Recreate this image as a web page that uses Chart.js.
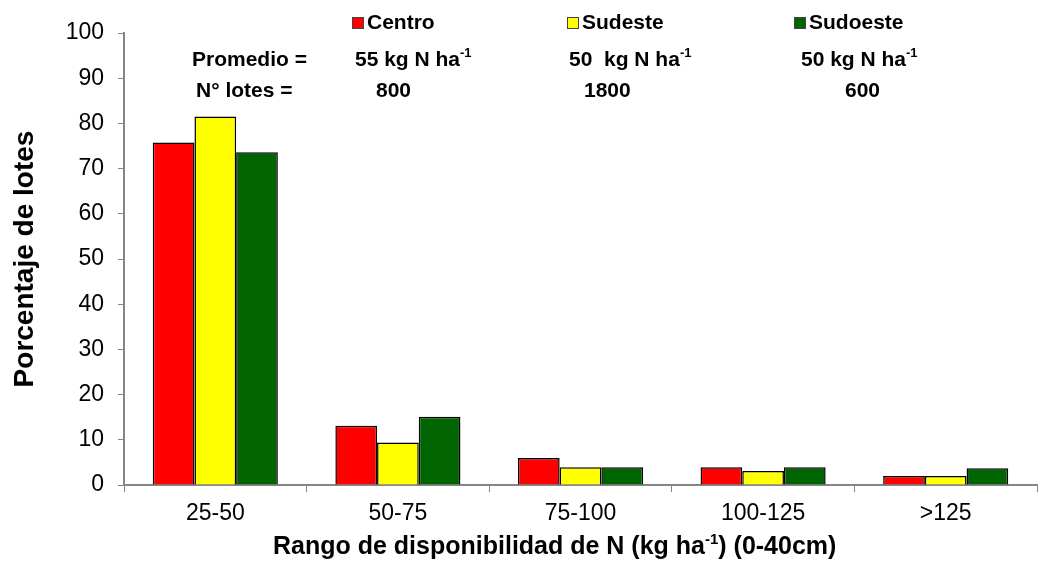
<!DOCTYPE html>
<html>
<head>
<meta charset="utf-8">
<script src="https://cdn.jsdelivr.net/npm/chart.js@4"></script>
<style>
  html, body { margin: 0; padding: 0; background: #fff; }
  #wrap { width: 1046px; height: 563px; position: relative; }
</style>
</head>
<body>
<div id="wrap"><canvas id="chart" width="1046" height="563"></canvas></div>
<script>
const categories = ['25-50', '50-75', '75-100', '100-125', '>125'];
const centro = [75.8, 13.1, 6.0, 3.9, 2.0];
const sudeste = [81.5, 9.4, 3.9, 3.1, 2.0];
const sudoeste = [73.6, 15.1, 3.9, 3.9, 3.7];
const yTicks = [0, 10, 20, 30, 40, 50, 60, 70, 80, 90, 100];
const regions = ['Centro', 'Sudeste', 'Sudoeste'];
const promedios = ['55 kg N ha', '50  kg N ha', '50 kg N ha'];
const lotes = ['800', '1800', '600'];

const FONT = '"Liberation Sans", Arial, sans-serif';
const axisGray = '#868686';

// legend + annotation rows drawn at the top of the chart
const headerPlugin = {
    id: 'header',
    afterDraw(chart) {
        const ctx = chart.ctx;
        ctx.save();
        ctx.textBaseline = 'middle';
        ctx.font = 'bold 21px ' + FONT;
        ctx.fillStyle = '#000';

        const boxX = [352, 567, 794];
        chart.data.datasets.forEach(function(ds, i) {
            ctx.fillStyle = ds.backgroundColor;
            ctx.fillRect(boxX[i], 17, 12, 12);
            ctx.strokeStyle = '#444';
            ctx.lineWidth = 1;
            ctx.strokeRect(boxX[i] + 0.5, 17.5, 11, 11);
            ctx.fillStyle = '#000';
            ctx.fillText(regions[i], boxX[i] + 15, 23);
        });

        ctx.fillText('Promedio =', 192, 60);
        ctx.fillText('N° lotes =', 196, 91);

        const promX = [355, 569, 801];
        promedios.forEach(function(t, i) {
            ctx.font = 'bold 21px ' + FONT;
            ctx.fillText(t, promX[i], 60);
            const w = ctx.measureText(t).width;
            ctx.font = 'bold 13px ' + FONT;
            ctx.fillText('-1', promX[i] + w, 53);
        });

        ctx.font = 'bold 21px ' + FONT;
        const lotX = [376, 584, 845];
        lotes.forEach(function(t, i) {
            ctx.fillText(t, lotX[i], 91);
        });

        // x axis title with superscript
        const parts = [['Rango de disponibilidad de N (kg ha', 25, 0], ['-1', 15, -7], [') (0-40cm)', 25, 0]];
        let x = 273;
        parts.forEach(function(p) {
            ctx.font = 'bold ' + p[1] + 'px ' + FONT;
            ctx.fillText(p[0], x, 547 + p[2]);
            x += ctx.measureText(p[0]).width;
        });
        ctx.restore();
    }
};

const ctx = document.getElementById('chart').getContext('2d');
const chart = new Chart(ctx, {
    type: 'bar',
    data: {
        labels: categories,
        datasets: [
            { label: 'Centro', data: centro, backgroundColor: '#ff0000' },
            { label: 'Sudeste', data: sudeste, backgroundColor: '#ffff00' },
            { label: 'Sudoeste', data: sudoeste, backgroundColor: '#006400' }
        ]
    },
    options: {
        responsive: false,
        animation: false,
        layout: { padding: { top: 33, right: 9, left: 0, bottom: 0 } },
        datasets: {
            bar: {
                borderColor: '#000',
                borderWidth: 1.5,
                barPercentage: 1,
                categoryPercentage: 0.685
            }
        },
        plugins: {
            legend: { display: false },
            tooltip: { enabled: false }
        },
        scales: {
            x: {
                grid: {
                    display: true,
                    drawOnChartArea: false,
                    offset: true,
                    tickLength: 7,
                    color: axisGray
                },
                border: { color: axisGray, width: 2 },
                ticks: {
                    color: '#000',
                    font: { family: FONT, size: 23 },
                    padding: 8
                },
                afterFit: function(scale) { scale.height = 78; }
            },
            y: {
                min: 0,
                max: 100,
                afterBuildTicks: function(scale) {
                    scale.ticks = yTicks.map(function(v) { return { value: v }; });
                },
                grid: {
                    display: true,
                    drawOnChartArea: false,
                    tickLength: 6,
                    color: axisGray
                },
                border: { color: axisGray, width: 2 },
                ticks: {
                    color: '#000',
                    font: { family: FONT, size: 23 },
                    padding: 14
                },
                title: {
                    display: true,
                    text: 'Porcentaje de lotes',
                    color: '#000',
                    font: { family: FONT, size: 28, weight: 'bold' },
                    padding: { top: 8, bottom: 0 }
                },
                afterFit: function(scale) { scale.width = 124; }
            }
        }
    },
    plugins: [headerPlugin]
});
</script>
</body>
</html>
